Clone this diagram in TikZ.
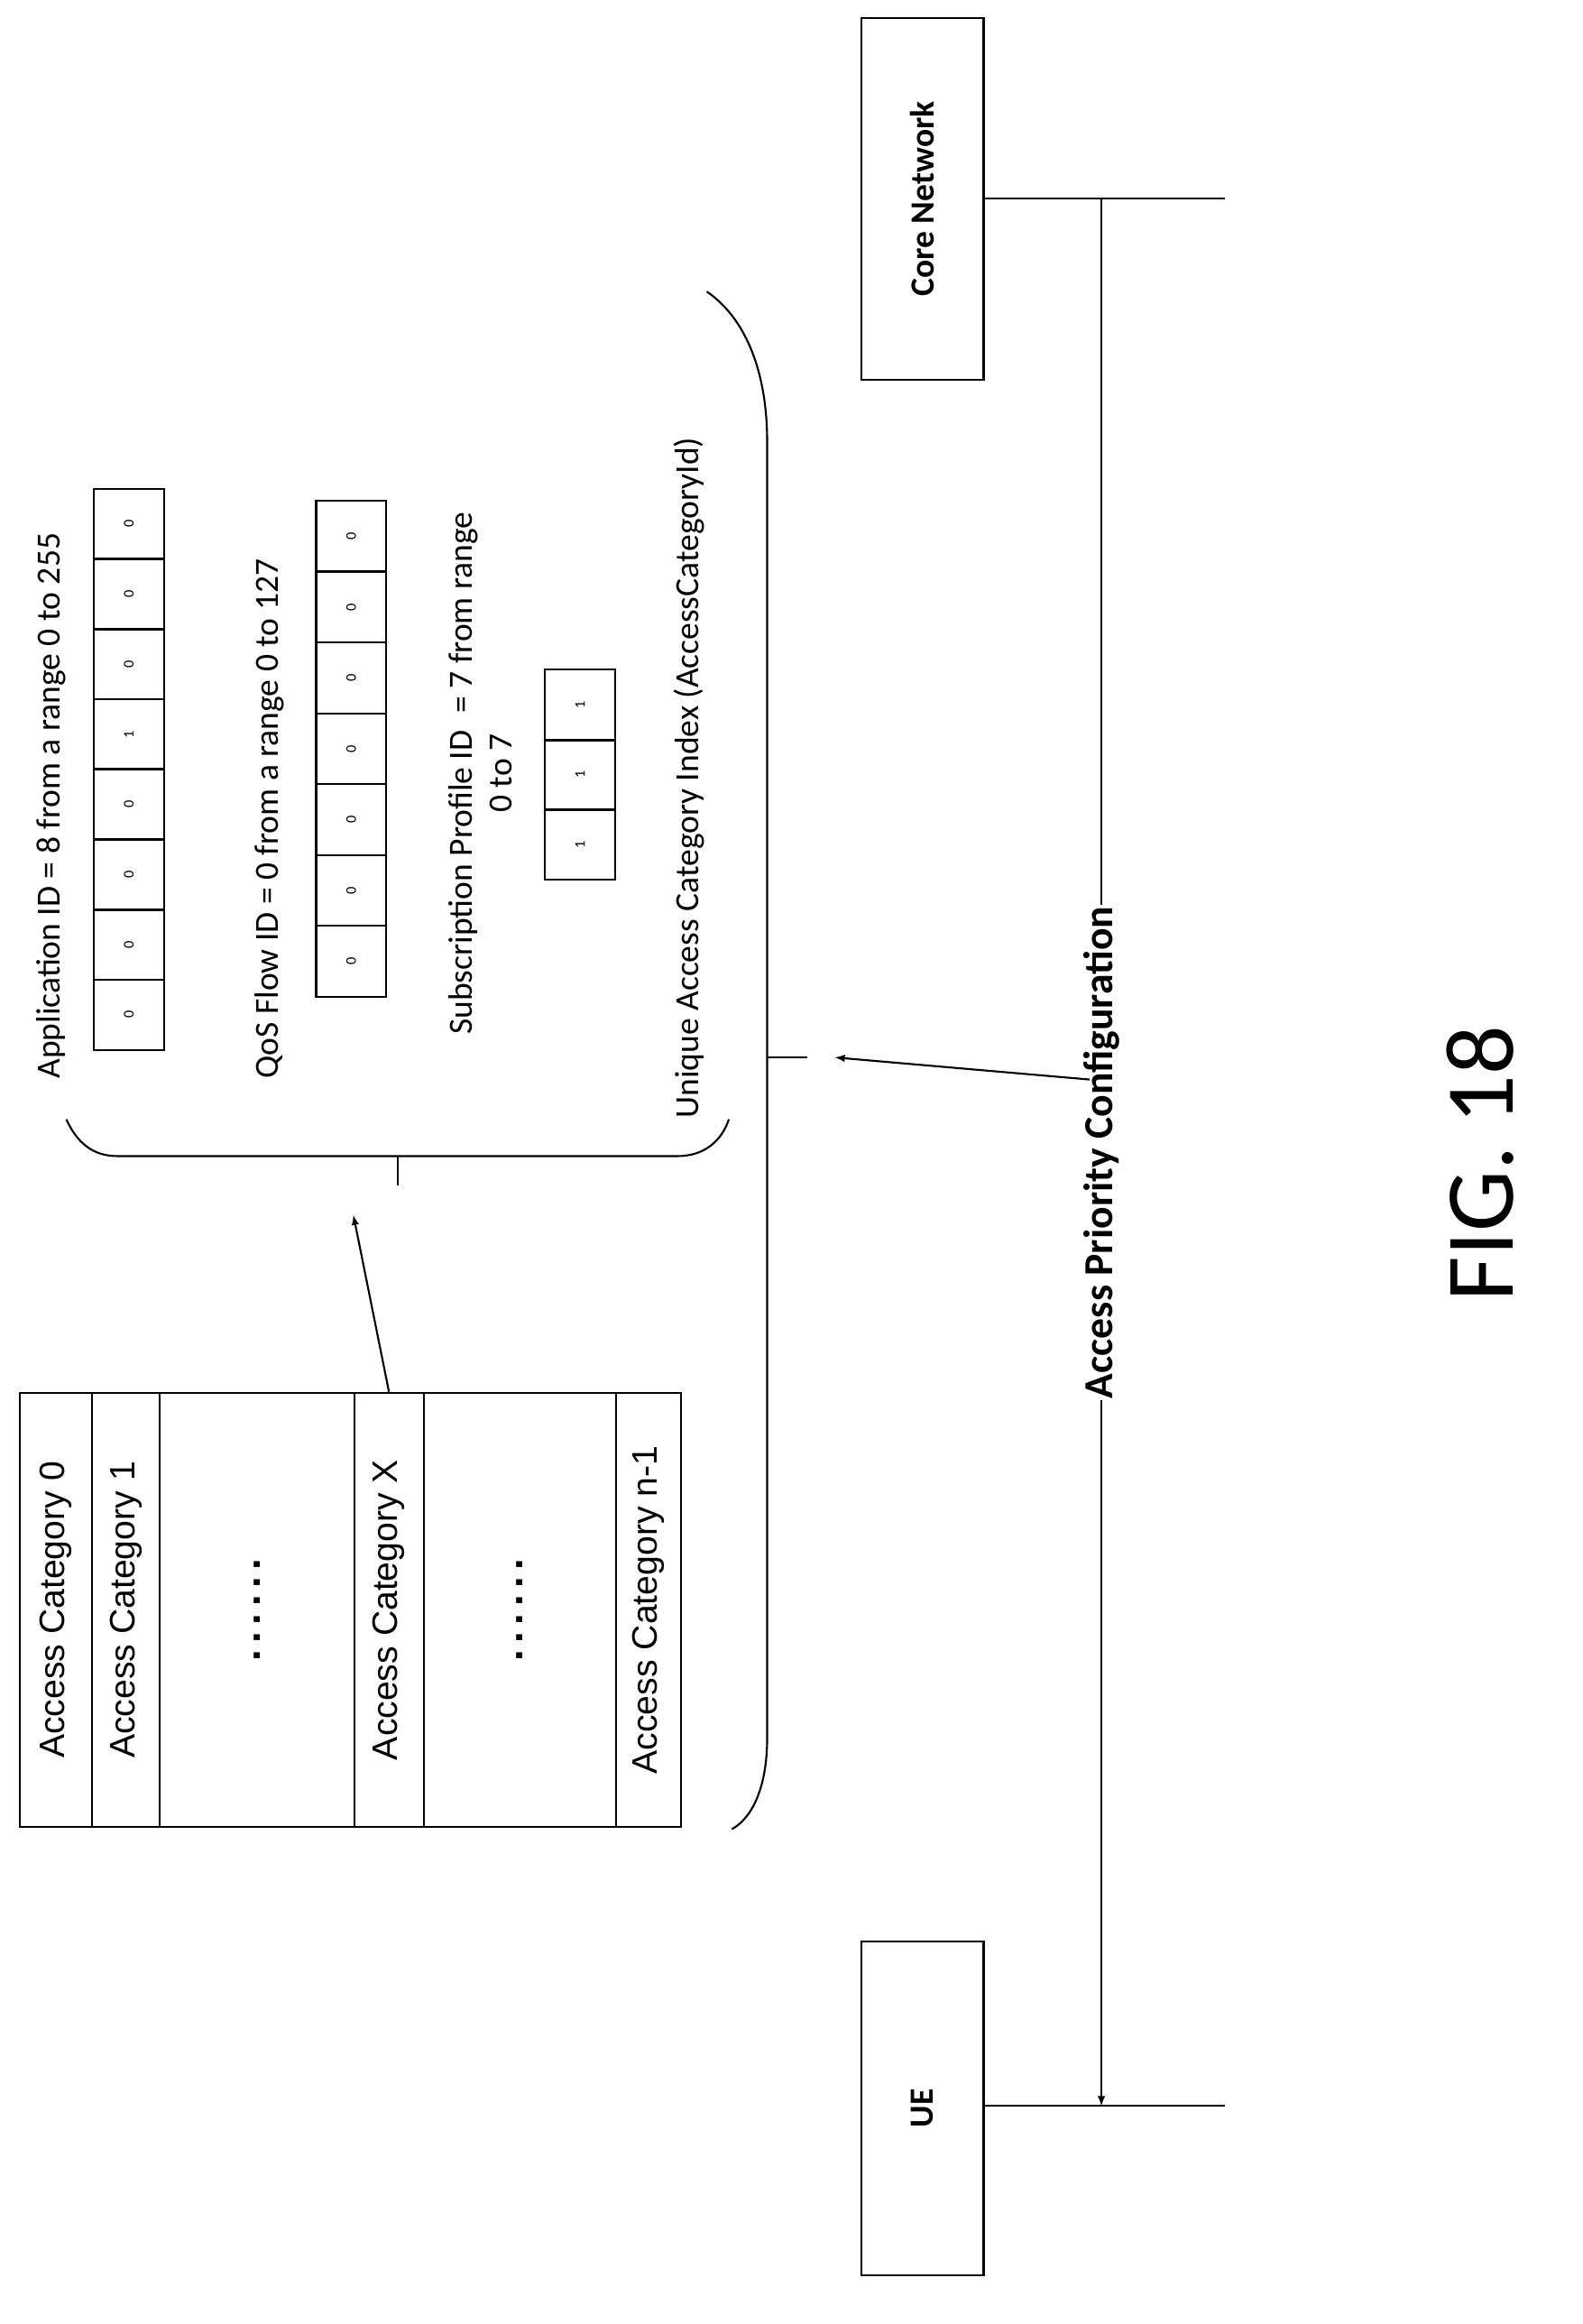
\documentclass[tikz,border=0pt]{standalone}
\usepackage{fontspec}
\setmainfont{Carlito}
\newfontfamily\arialf{Liberation Sans}
\newcommand{\sixdots}{.\,.\,.\,.\,.\,.}
\begin{document}
\begin{tikzpicture}[x=1pt,y=-1pt,line width=1.3pt,
  bit/.style={draw,minimum width=48pt,minimum height=47.6pt,inner sep=0pt,font=\fontsize{10}{12}\selectfont,rotate=90},
  lab/.style={rotate=90,font=\fontsize{23}{27}\selectfont,inner sep=0pt},
  cat/.style={rotate=90,font=\arialf\fontsize{24}{28}\selectfont},
  arr/.style={-latex}]
\useasboundingbox (0,0) rectangle (1075,1578);
% entities
\node[draw,minimum width=83pt,minimum height=246pt,inner sep=0pt] (cn) at (626.5,135) {};
\node[rotate=90,font=\bfseries\fontsize{23}{27}\selectfont] at (cn) {Core Network};
\node[draw,minimum width=83pt,minimum height=227pt,inner sep=0pt] (ue) at (626.5,1431.5) {};
\node[rotate=90,font=\bfseries\fontsize{23}{27}\selectfont] at (ue) {UE};
\coordinate (cnL) at (832,135); \coordinate (ueL) at (832,1430);
\coordinate (cnA) at (748,135); \coordinate (ueA) at (748,1430);
\draw (cn.east|-cnL) -- (cnL);
\draw (ue.east|-ueL) -- (ueL);
\draw[arr] (cnA) -- node[pos=0.5,rotate=90,fill=white,inner sep=1pt,font=\bfseries\fontsize{28}{32}\selectfont] {Access Priority Configuration} (ueA);
% brace
\draw (480,198) .. controls (505,215) and (521,250) .. (521,300) -- (521,1180) .. controls (521,1215) and (510,1235) .. (497,1242);
\draw (45,760) .. controls (52,775) and (62,785) .. (80,785) -- (460,785) .. controls (478,785) and (490,775) .. (495,760);
\coordinate (b1) at (270,785); \coordinate (b1e) at (270,805);
\draw (b1) -- (b1e);
\coordinate (b2) at (521,718); \coordinate (b2e) at (548,718);
\draw (b2) -- (b2e);
\coordinate (p1) at (740,733); \coordinate (p2) at (567,718);
\draw[arr] (p1) -- (p2);
% table
\foreach \x/\w/\n in {13/49/c0, 62/46/c1, 108/132/c2, 240/47/cx, 287/131/c3, 418/44/c4}
  \node[draw,minimum width=\w pt,minimum height=295pt,inner sep=0pt,anchor=north west] (\n) at (\x,945) {};
\node[cat] at (c0) {Access Category 0};
\node[cat] at (c1) {Access Category 1};
\node[cat,font=\arialf\bfseries\fontsize{28}{30}\selectfont] at (c2) {\sixdots};
\node[cat] at (cx) {Access Category X};
\node[cat,font=\arialf\bfseries\fontsize{28}{30}\selectfont] at (c3) {\sixdots};
\node[cat] at (c4) {Access Category n-1};
\coordinate (t1) at (240,825);
\draw[arr] (cx.north) -- (t1);
% bit fields
\node[lab,anchor=west] (al) at (35,733) {Application ID = 8 from a range 0 to 255};
\foreach \v [count=\i] in {0,0,0,1,0,0,0,0}
  \node[bit] (a\i) at (87.5,332+47.6*\i-23.8) {\v};
\node[lab,anchor=west] (ql) at (183,733) {QoS Flow ID = 0 from a range 0 to 127};
\foreach \v [count=\i] in {0,0,0,0,0,0,0}
  \node[bit] (q\i) at (238.5,340+48.1*\i-24) {\v};
\node[lab,align=center,anchor=center] (sl) at (326,525) {Subscription Profile ID\enspace = 7 from range\\0 to 7};
\foreach \v [count=\i] in {1,1,1}
  \node[bit] (s\i) at (394,455+47.4*\i-23.7) {\v};
\node[lab,anchor=west] (ul) at (468,760) {Unique Access Category Index (AccessCategoryId)};
\node[rotate=90,font=\fontsize{66}{72}\selectfont] (fig) at (1005,790) {FIG. 18};
\end{tikzpicture}
\end{document}
